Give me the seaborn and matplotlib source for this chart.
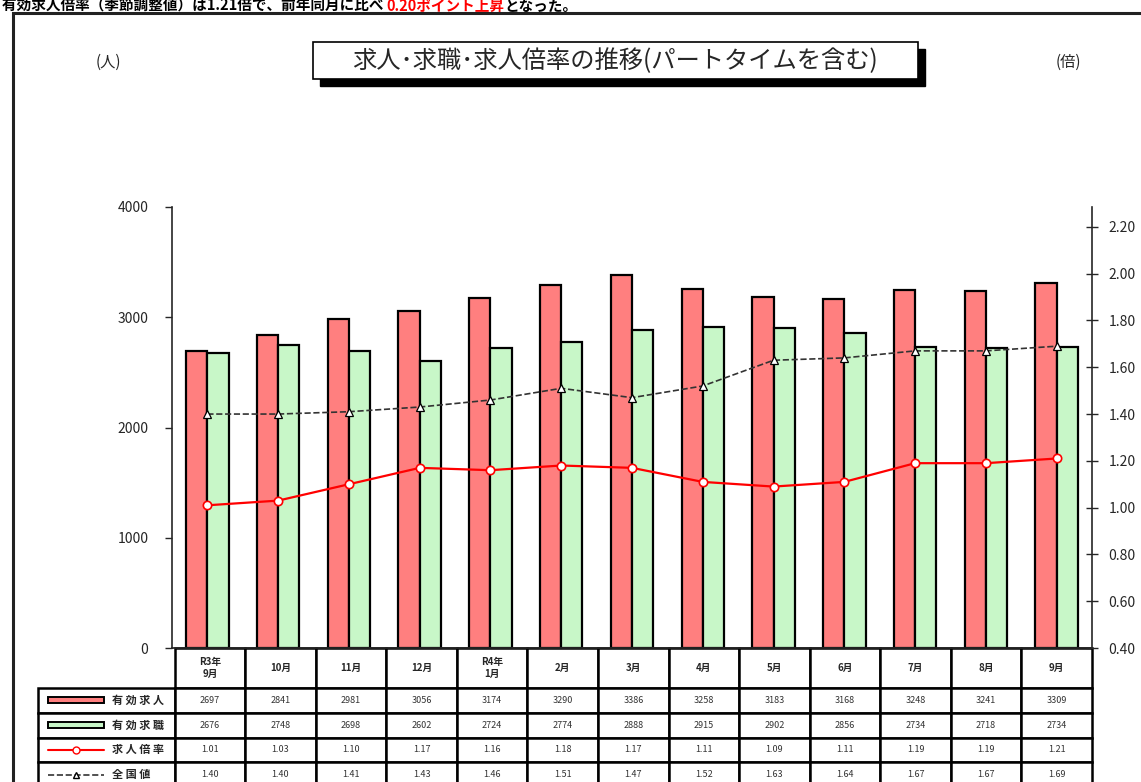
import numpy as np
import pandas as pd
import seaborn as sns
import matplotlib.pyplot as plt
from matplotlib.patches import Rectangle
from matplotlib.lines import Line2D

sns.set_theme(style="ticks")
plt.rcParams['font.family'] = ['Noto Sans CJK JP', 'DejaVu Sans']

# data
months = ["R3年\n9月", "10月", "11月", "12月", "R4年\n1月", "2月", "3月",
          "4月", "5月", "6月", "7月", "8月", "9月"]
job_offers = [2697, 2841, 2981, 3056, 3174, 3290, 3386, 3258, 3183, 3168, 3248, 3241, 3309]
job_seekers = [2676, 2748, 2698, 2602, 2724, 2774, 2888, 2915, 2902, 2856, 2734, 2718, 2734]
ratio = [1.01, 1.03, 1.10, 1.17, 1.16, 1.18, 1.17, 1.11, 1.09, 1.11, 1.19, 1.19, 1.21]
national = [1.40, 1.40, 1.41, 1.43, 1.46, 1.51, 1.47, 1.52, 1.63, 1.64, 1.67, 1.67, 1.69]
row_names = ["有 効 求 人", "有 効 求 職", "求 人 倍 率", "全 国 値"]
headline = ["有効求人倍率（季節調整値）は1.21倍で、前年同月に比べ ", "0.20ポイント上昇", "となった。"]

W, H = 1141, 782
RED, GREEN = "#FF7F7F", "#C8F7C8"


def fx(x):
    return x / W


def fy(y):
    return 1 - y / H


fig = plt.figure(figsize=(W / 100, H / 100), dpi=100)
renderer = fig.canvas.get_renderer()

# outer frame
fig.add_artist(Rectangle((fx(13), fy(800)), 1.2, fy(13) - fy(800), transform=fig.transFigure,
                         fill=False, edgecolor="#222222", linewidth=2.2))

# headline at the very top, pieces chained one after another
x = 2
for piece, color in zip(headline, ["black", "red", "black"]):
    t = fig.text(fx(x), fy(6), piece, fontsize=10.5, fontweight="bold", color=color,
                 va="center", ha="left")
    x += t.get_window_extent(renderer=renderer).width

# title box with shadow
fig.add_artist(Rectangle((fx(320), fy(86)), fx(605), fy(49) - fy(86), transform=fig.transFigure,
                         facecolor="black", edgecolor="black"))
fig.add_artist(Rectangle((fx(313), fy(79)), fx(605), fy(42) - fy(79), transform=fig.transFigure,
                         facecolor="white", edgecolor="black", linewidth=1.2))
fig.text(fx(615), fy(61), "求人･求職･求人倍率の推移(パートタイムを含む)", fontsize=17.5,
         ha="center", va="center")
fig.text(fx(108), fy(62), "(人)", fontsize=11, ha="center", va="center")
fig.text(fx(1068), fy(62), "(倍)", fontsize=11, ha="center", va="center")

# main axes
ax = fig.add_axes([fx(172), fy(648), fx(920), (648 - 207) / H])
df = pd.DataFrame({
    "month": months * 2,
    "value": job_offers + job_seekers,
    "series": [row_names[0]] * len(months) + [row_names[1]] * len(months),
})
sns.barplot(data=df, x="month", y="value", hue="series", palette=[RED, GREEN], saturation=1,
            width=0.6, gap=0, edgecolor="black", linewidth=1.6, legend=False, ax=ax)
ax.set_xlim(-0.5, len(months) - 0.5)
ax.set_ylim(0, 4000)
ax.set_yticks(range(0, 4001, 1000))
ax.set_xticks([])
ax.set_xlabel("")
ax.set_ylabel("")
ax.tick_params(axis="y", direction="out", length=5, width=1, labelsize=10, pad=12)
for side in ["top", "right"]:
    ax.spines[side].set_visible(False)
ax.spines["left"].set_linewidth(1.2)

# ratio lines on the right axis
ax2 = ax.twinx()
sns.pointplot(x=months, y=ratio, color="red", markers="o", linestyles="-",
              markersize=6, markerfacecolor="white", markeredgecolor="red",
              linewidth=1.6, errorbar=None, ax=ax2)
sns.pointplot(x=months, y=national, color="#333333", markers="^", linestyles="--",
              markersize=6, markerfacecolor="white", markeredgecolor="black",
              linewidth=1.2, errorbar=None, ax=ax2)
ax2.set_xlim(-0.5, len(months) - 0.5)
ax2.set_ylim(0.4, 2.285)
ax2.set_yticks(np.arange(0.4, 2.21, 0.2))
ax2.set_yticklabels([f"{v:.2f}" for v in np.arange(0.4, 2.21, 0.2)])
ax2.set_xticks([])
ax2.set_ylabel("")
ax2.tick_params(axis="y", direction="inout", length=8, width=1, labelsize=10, pad=8)
for side in ["top", "left", "bottom"]:
    ax2.spines[side].set_visible(False)
ax2.spines["right"].set_linewidth(1.2)

# data table under the plot
cell_text = [[""] + months,
             [""] + [str(v) for v in job_offers],
             [""] + [str(v) for v in job_seekers],
             [""] + [f"{v:.2f}" for v in ratio],
             [""] + [f"{v:.2f}" for v in national]]
tbl = ax.table(cellText=cell_text, cellLoc="center",
               bbox=[(38 - 172) / 920, (648 - 787) / 441, (1092 - 38) / 920, (787 - 648) / 441])
tbl.auto_set_font_size(False)
for (r, c), cell in tbl.get_celld().items():
    cell.set_width(137 if c == 0 else 920 / 13)
    cell.set_height(40 if r == 0 else 24.75)
    cell.set_linewidth(1.8)
    cell.set_edgecolor("black")
    if r == 0:
        cell.get_text().set_fontsize(7)
        cell.get_text().set_fontweight("bold")
        if c == 0:
            cell.visible_edges = ""
    else:
        cell.get_text().set_fontsize(6.5)
        cell.get_text().set_color("#333333")

# legend keys in the table's first column
row_y = [700.4, 725.1, 749.9, 774.6]
for name, y in zip(row_names, row_y):
    fig.text(fx(112), fy(y), name, fontsize=8, fontweight="bold", ha="left", va="center")
for color, y in zip([RED, GREEN], row_y[:2]):
    fig.add_artist(Rectangle((fx(48), fy(y + 3)), fx(56), fy(y - 3) - fy(y + 3),
                             transform=fig.transFigure, facecolor=color,
                             edgecolor="black", linewidth=1.4))
fig.add_artist(Line2D([fx(48), fx(104)], [fy(row_y[2])] * 2, transform=fig.transFigure,
                      color="red", linewidth=1.5))
fig.add_artist(Line2D([fx(76)], [fy(row_y[2])], transform=fig.transFigure, marker="o",
                      markersize=5, markerfacecolor="white", markeredgecolor="red"))
fig.add_artist(Line2D([fx(48), fx(104)], [fy(row_y[3])] * 2, transform=fig.transFigure,
                      color="#333333", linewidth=1.2, linestyle="--"))
fig.add_artist(Line2D([fx(76)], [fy(row_y[3])], transform=fig.transFigure, marker="^",
                      markersize=5, markerfacecolor="white", markeredgecolor="black"))

fig.savefig("out.png", dpi=100)
